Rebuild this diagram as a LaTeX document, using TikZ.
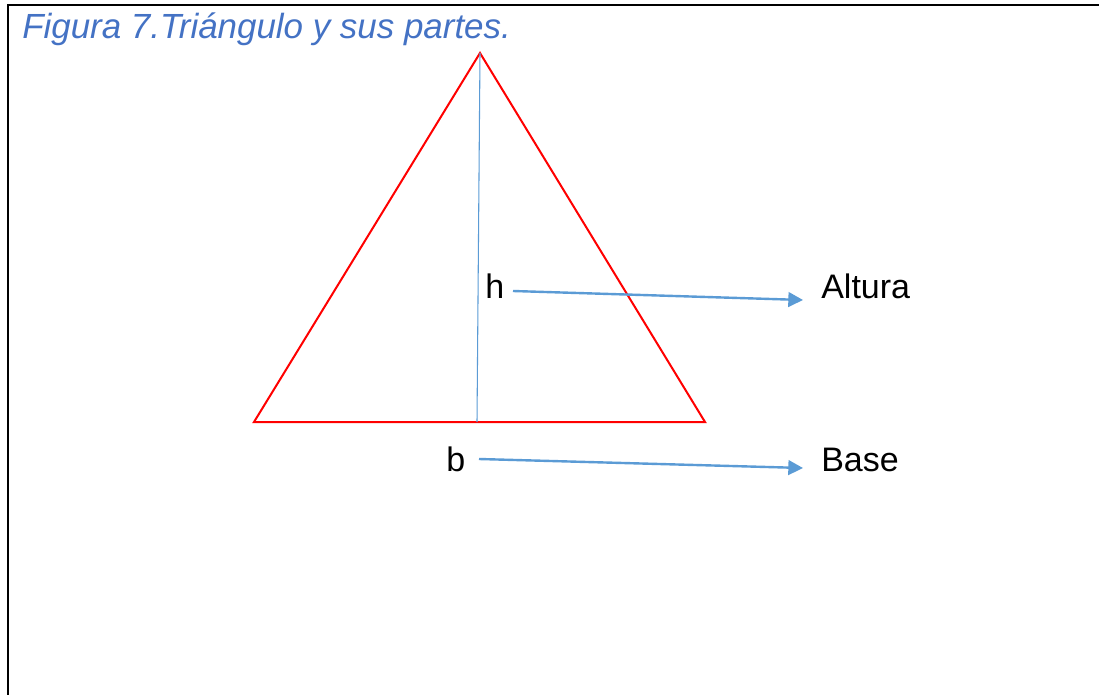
\documentclass[tikz,border=0pt]{standalone}
\usepackage{fontspec}
\setmainfont{Liberation Sans}
\usetikzlibrary{positioning, arrows.meta}
\definecolor{capblue}{HTML}{4472C4}
\definecolor{ptrblue}{HTML}{5B9BD5}
\tikzset{
  frame/.style   ={draw=black, line width=1.7pt},
  side/.style    ={draw=red, line width=1.5pt, line join=miter},
  altline/.style ={draw=ptrblue, line width=0.8pt},
  pointer/.style ={-{Triangle[length=11pt, width=11pt]}, ptrblue,
                   line width=1.8pt},
  lbl/.style     ={anchor=base west, inner sep=0pt, font=\fontsize{25.5}{30}\selectfont},
  caption/.style ={lbl, text=capblue, font=\fontsize{26.2}{30}\selectfont\itshape},
}
\begin{document}
\begin{tikzpicture}[x=0.75pt, y=-0.75pt]
\useasboundingbox (0,0) rectangle (1099,695);
\draw[frame] (1100,5) -- (8,5) -- (8,696);

\node[caption] (title) at (22,39) {Figura 7.Triángulo y sus partes.};

% triangle and its height
\coordinate (apex) at (480,53);
\coordinate (bl) at (254,422);
\coordinate (br) at (705,422);
\coordinate (foot) at (477,422);
\draw[side] (bl) -- (apex) -- (br) -- cycle;
\draw[altline] (apex) -- (foot);

% labels
\node[lbl] (h) at (485,298) {h};
\node[lbl] (b) at (446,471) {b};
\node[lbl] (alt) at (821,298) {Altura};
\node[lbl] (base) at (821,471) {Base};

% pointers
\coordinate (hS) at (513,291);
\coordinate (hE) at (803,300);
\coordinate (bS) at (479,459);
\coordinate (bE) at (803,468);
\draw[pointer] (hS) -- (hE);
\draw[pointer] (bS) -- (bE);

\end{tikzpicture}
\end{document}
